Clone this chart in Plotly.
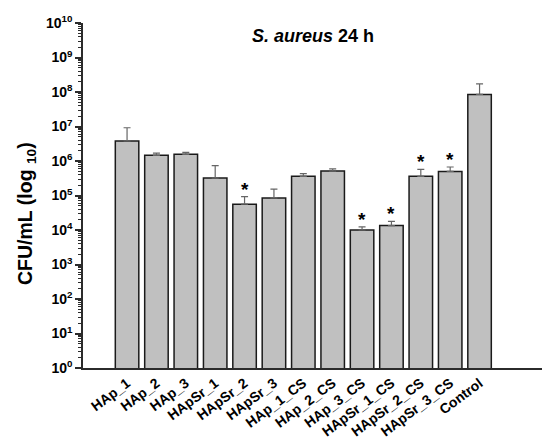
import numpy as np
import plotly.graph_objects as go

categories = ["HAp_1", "HAp_2", "HAp_3", "HApSr_1", "HApSr_2", "HApSr_3",
              "HAp_1_CS", "HAp_2_CS", "HAp_3_CS", "HApSr_1_CS", "HApSr_2_CS",
              "HApSr_3_CS", "Control"]
cfu_mean = [3.8e6, 1.46e6, 1.56e6, 3.2e5, 5.6e4, 8.5e4,
            3.6e5, 5.1e5, 1.0e4, 1.34e4, 3.6e5, 5.0e5, 8.5e7]
cfu_err = [5.4e6, 0.24e6, 0.22e6, 4.1e5, 3.7e4, 6.9e4,
           0.68e5, 0.85e5, 0.23e4, 0.45e4, 2.1e5, 1.7e5, 8.7e7]
significant = [False, False, False, False, True, False,
               False, False, True, True, True, True, False]
y_tick_exponents = list(range(0, 11))

FONT = "Liberation Sans, Arial, sans-serif"
AX = "#2b2b2b"

L, R, T, B = 75, 5, 15, 81
PW, PH = 550 - L - R, 441 - T - B


def px_x(p):
    return (p - L) / PW


def px_y(p):
    return 1 - (p - T) / PH


fig = go.Figure()
fig.add_trace(go.Bar(
    x=list(range(len(categories))),
    y=cfu_mean,
    marker=dict(color="#c0c0c0", line=dict(color="#1a1a1a", width=1.5)),
    width=0.8,
    error_y=dict(type="data", symmetric=False, array=cfu_err,
                 arrayminus=[0] * len(cfu_err),
                 color="#666666", thickness=1.2, width=3.5),
    hoverinfo="skip",
))

annotations = []
for i, (m, e, s) in enumerate(zip(cfu_mean, cfu_err, significant)):
    if s:
        annotations.append(dict(x=i, y=np.log10(m + e), xref="x", yref="y",
                                text="*", showarrow=False, yanchor="bottom",
                                yshift=-5,
                                font=dict(family=FONT, size=19, color="black",
                                          weight="bold")))

annotations.append(dict(x=px_x(305), y=px_y(28), xref="paper", yref="paper",
                        text="<i>S. aureus</i> 24 h", showarrow=False,
                        xanchor="center", yanchor="middle",
                        font=dict(family=FONT, size=18, color="black",
                                  weight="bold")))
annotations.append(dict(x=px_x(19), y=px_y(206), xref="paper", yref="paper",
                        text="CFU/mL (log <sub>10</sub>)", showarrow=False,
                        textangle=-90, xanchor="center", yanchor="middle",
                        font=dict(family=FONT, size=19.5, color="black",
                                  weight="bold")))

minor_vals = [d * 10 ** k for k in range(0, 10) for d in range(2, 10)]

fig.update_layout(
    width=550, height=441,
    margin=dict(l=L, r=R, t=T, b=B),
    paper_bgcolor="white", plot_bgcolor="white",
    showlegend=False,
    font=dict(family=FONT, color="black"),
    annotations=annotations,
    xaxis=dict(
        range=[-1.5, 14.5],
        tickmode="array",
        tickvals=list(range(len(categories))),
        ticktext=categories,
        tickangle=-37,
        tickfont=dict(family=FONT, size=14, color="black", weight="bold"),
        showline=True, linecolor=AX, linewidth=1.5,
        ticks="", showgrid=False, zeroline=False,
    ),
    yaxis=dict(
        type="log",
        range=[0, 10],
        tickmode="array",
        tickvals=[10 ** k for k in y_tick_exponents],
        ticktext=["10<sup>%d</sup>" % k for k in y_tick_exponents],
        tickfont=dict(family=FONT, size=14, color="black", weight="bold"),
        ticks="outside", ticklen=6, tickwidth=1.5, tickcolor=AX,
        minor=dict(tickvals=minor_vals, ticks="outside", ticklen=3.5,
                   tickwidth=1, tickcolor=AX, showgrid=False),
        showline=True, linecolor=AX, linewidth=1.5,
        showgrid=False, zeroline=False,
    ),
)

fig.write_html("out.html")
